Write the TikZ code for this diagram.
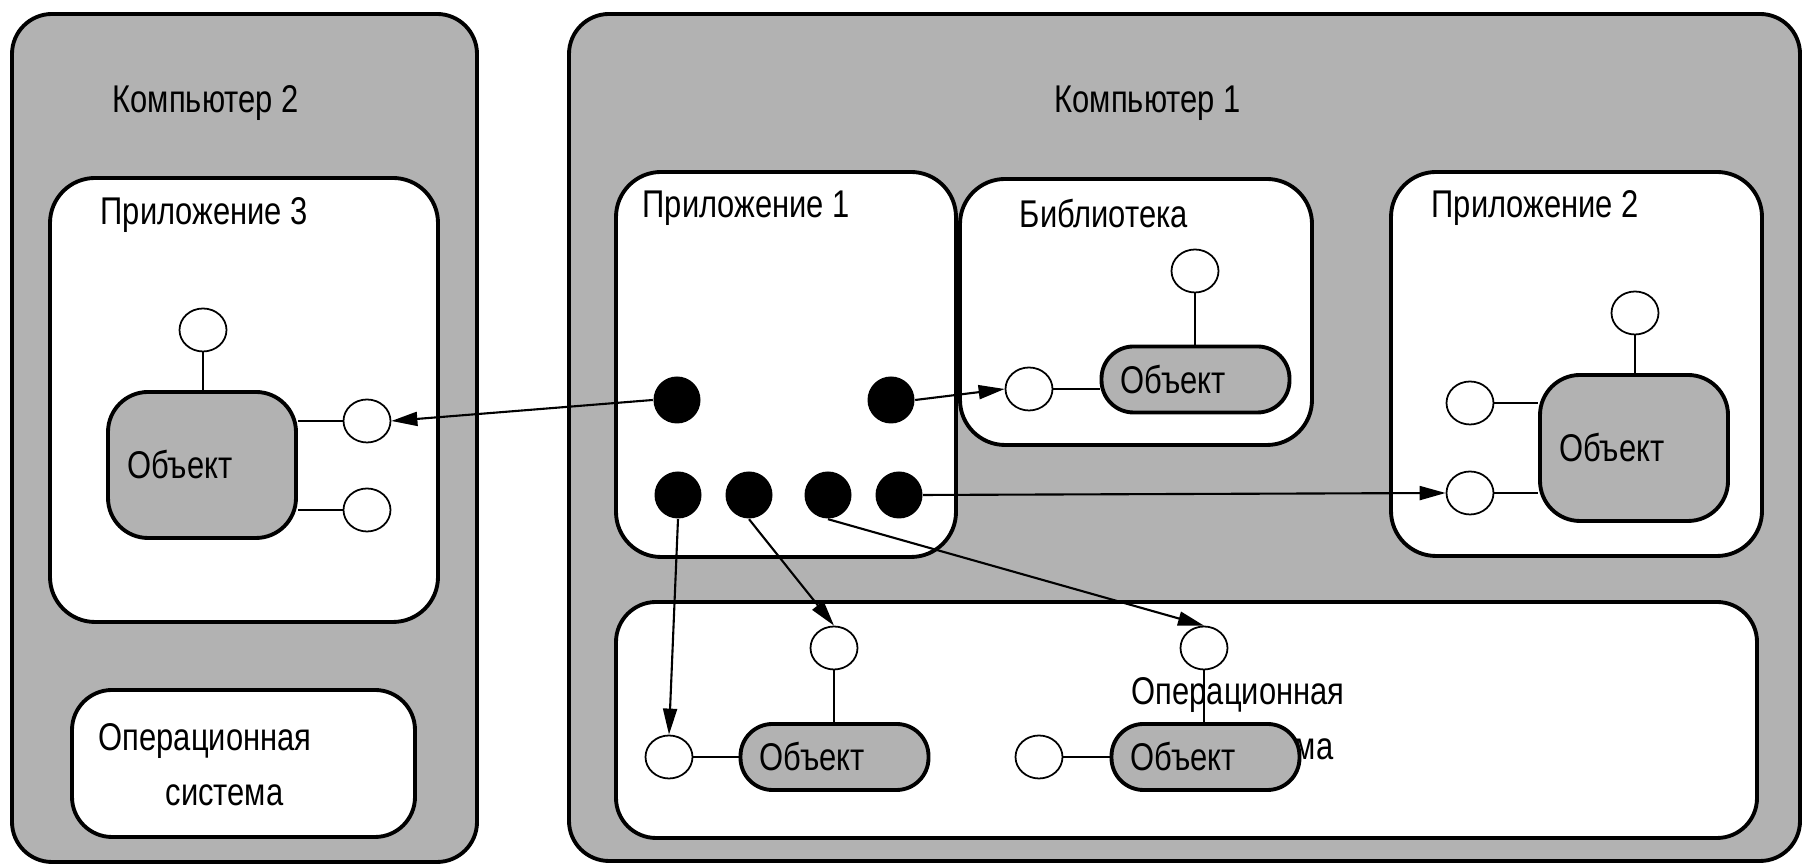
\documentclass[tikz,border=0pt]{standalone}
\usepackage{fontspec}
\setmainfont{Liberation Sans}[FakeStretch=0.8]
\usetikzlibrary{arrows.meta,shapes.geometric}
\definecolor{boxgray}{RGB}{178,178,178}
\tikzset{
  box/.style={draw,line width=1.1pt,rounded corners=0.45cm},
  lbl/.style={anchor=north west,inner sep=0pt,align=left},
  obj/.style={draw,fill=boxgray,line width=1.1pt,rounded corners=0.4cm,text width=1.5cm,inner xsep=0.19cm,align=left,minimum height=1.46cm},
  pill/.style={obj,rounded corners=0.32cm,minimum height=0.66cm,inner ysep=0pt},
  port/.style={draw,fill=white,ellipse,minimum width=0.47cm,minimum height=0.43cm,inner sep=0pt,line width=0.5pt},
  dot/.style={circle,fill=black,minimum size=0.47cm,inner sep=0pt}
}
\begin{document}
\begin{tikzpicture}[>={Triangle[length=2.6mm,width=1.4mm]},font=\fontsize{11pt}{15.6pt}\selectfont]
\useasboundingbox[fill=white](0,0) rectangle (18.04,8.64);
\draw[box,fill=boxgray,rounded corners=0.4cm](0.12,0.02) rectangle (4.77,8.50);
\draw[box,fill=boxgray,rounded corners=0.4cm](5.69,0.03) rectangle (18.00,8.50);
\draw[box,fill=white](0.50,2.42) rectangle (4.38,6.86);
\draw[box,fill=white,rounded corners=0.4cm](0.72,0.27) rectangle (4.15,1.74);
\draw[box,fill=white](6.16,3.07) rectangle (9.56,6.92);
\draw[box,fill=white](9.60,4.19) rectangle (13.12,6.85);
\draw[box,fill=white](13.91,3.08) rectangle (17.62,6.92);
\draw[box,fill=white,rounded corners=0.4cm](6.16,0.26) rectangle (17.57,2.62);

\node[lbl] (k2) at (1.12,7.79) {Компьютер 2};
\node[lbl] (k1) at (10.54,7.79) {Компьютер 1};
\node[lbl] (a3) at (1.00,6.67) {Приложение 3};
\node[lbl] (a1) at (6.42,6.74) {Приложение 1};
\node[lbl] (lb) at (10.19,6.66) {Библиотека};
\node[lbl] (a2) at (14.31,6.74) {Приложение 2};
\node[lbl] (os2) at (0.98,1.41) {Операционная\\\hspace*{0.67cm}система};
\node[lbl] (os1) at (11.31,1.87) {Операционная\\\hspace*{0.84cm}система};

\node[obj] (o3) at (2.02,3.99) {Объект};
\node[pill] (ol) at (11.955,4.845) {Объект};
\node[obj] (o2) at (16.34,4.16) {Объект};
\node[pill] (oa) at (8.345,1.07) {Объект};
\node[pill] (ob) at (12.055,1.07) {Объект};

\foreach \n/\x/\y in {p3t/2.03/5.34,p3a/3.67/4.43,p3b/3.67/3.54,plt/11.95/5.93,pll/10.29/4.75,
  p2t/16.35/5.51,p2a/14.70/4.61,p2b/14.70/3.71,pat/8.34/2.16,pal/6.69/1.07,pbt/12.04/2.16,pbl/10.39/1.07}
  \node[port] (\n) at (\x,\y) {};
\foreach \n/\x/\y in {da/6.77/4.64,db/8.91/4.64,dc/6.78/3.69,dd/7.49/3.69,de/8.28/3.69,df/8.99/3.69}
  \node[dot] (\n) at (\x,\y) {};

\draw (p3t) -- (p3t |- o3.north);
\draw (p3a) -- (p3a -| o3.east);
\draw (p3b) -- (p3b -| o3.east);
\draw (plt) -- (plt |- ol.north);
\draw (pll) -- (pll -| ol.west);
\draw (p2t) -- (p2t |- o2.north);
\draw (p2a) -- (p2a -| o2.west);
\draw (p2b) -- (p2b -| o2.west);
\draw (pat) -- (pat |- oa.north);
\draw (pal) -- (pal -| oa.west);
\draw (pbt) -- (pbt |- ob.north);
\draw (pbl) -- (pbl -| ob.west);

\draw[->,semithick] (da.west) -- (p3a.east);
\draw[->,semithick] (db.east) -- (pll.west);
\draw[->,semithick] (df.east) -- (p2b.west);
\draw[->,semithick] (dc.south) -- (pal.north);
\draw[->,semithick] (dd.south) -- (pat.north);
\draw[->,semithick] (de.south) -- (pbt.north);
\end{tikzpicture}
\end{document}
